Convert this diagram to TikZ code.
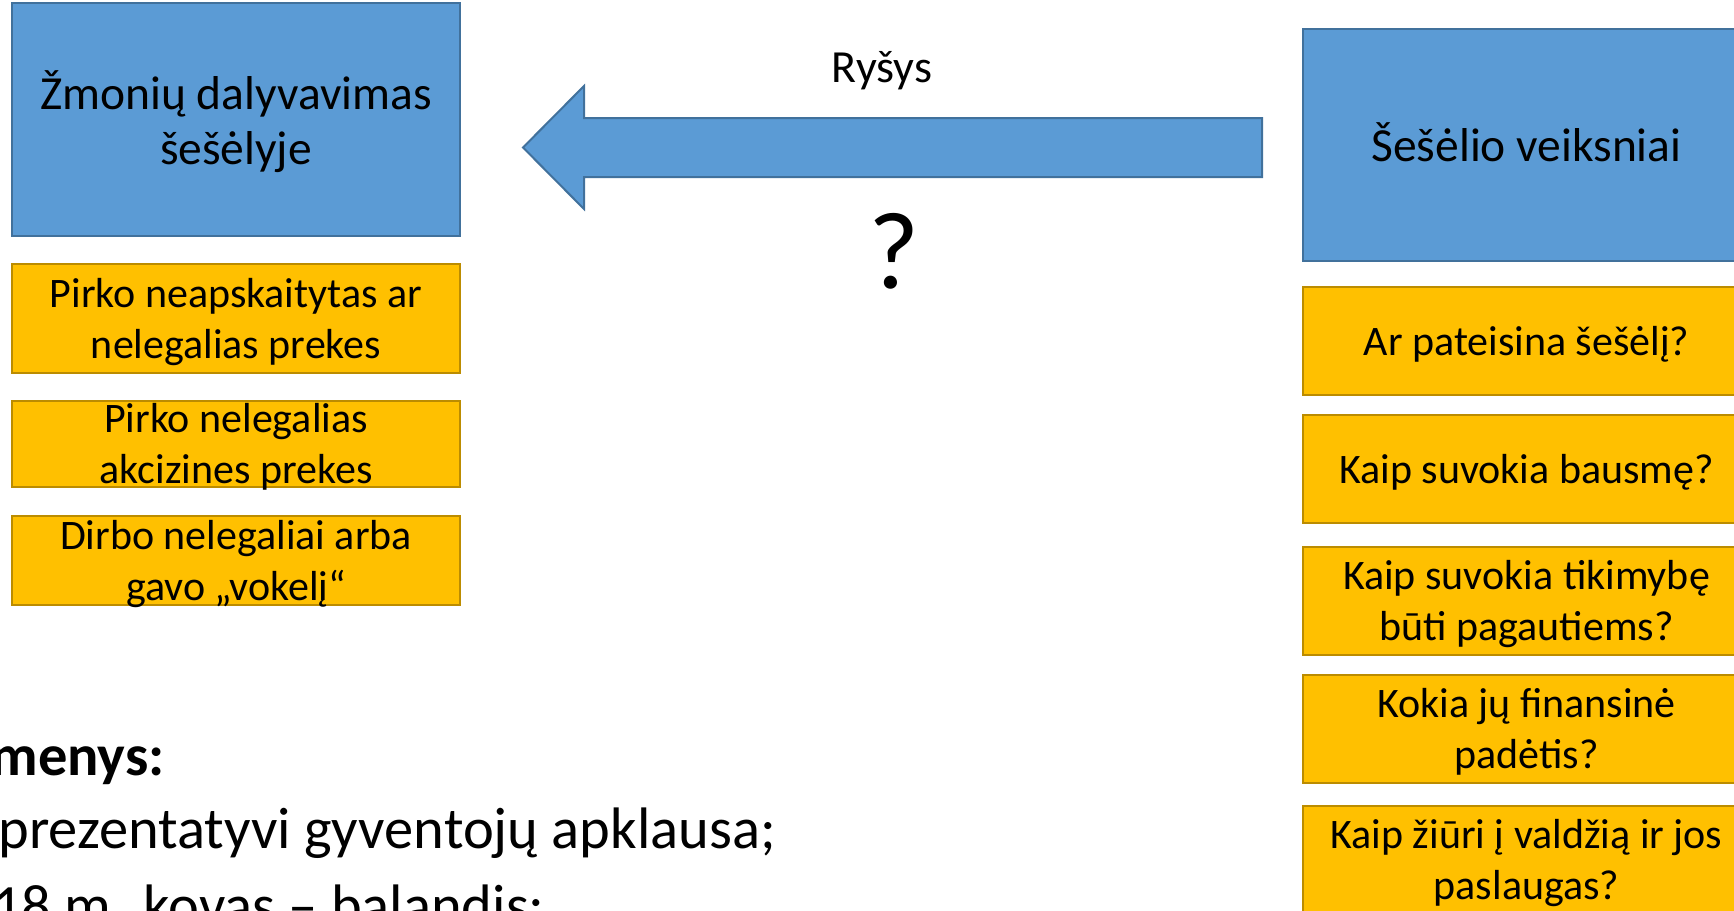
\documentclass[tikz,border=0pt]{standalone}
\usepackage{fontspec}
\setmainfont{Carlito}
\newfontfamily\cf{Carlito}
\definecolor{blueF}{HTML}{5B9BD5}
\definecolor{blueD}{HTML}{41719C}
\definecolor{orF}{HTML}{FFC000}
\definecolor{orD}{HTML}{BC8C00}
\newcommand\ofont{\cf\fontsize{42}{51}\selectfont}
\newcommand\bfnt{\cf\fontsize{47.5}{55}\selectfont}
\newcommand\os{\rule[-9pt]{0pt}{46pt}}
\newcommand\bs{\rule[-10pt]{0pt}{50pt}}
\tikzset{
  bluebox/.style={draw=blueD, fill=blueF, line width=2pt, inner sep=0pt, outer sep=0pt},
  orbox/.style={draw=orD, fill=orF, line width=2pt, inner sep=0pt, outer sep=0pt},
  otext/.style={inner sep=0pt, align=center, font=\ofont},
  btext/.style={inner sep=0pt, align=center, font=\bfnt},
  lw/.style={minimum width=448pt},
  rw/.style={minimum width=447pt},
  bottomtxt/.style={inner sep=0pt, anchor=base east, font=\cf\fontsize{58.5}{70}\selectfont},
}
\begin{document}
\begin{tikzpicture}[x=1pt, y=-1pt]
\useasboundingbox (0,0) rectangle (1734,910);
\clip (0,0) rectangle (1734,910);
\fill[white] (0,0) rectangle (1734,910);

% left column
\node[bluebox, lw, minimum height=233pt] (lb) at (236,119.5) {};
\node[btext] (lbt) at (236,121.5) {\bs Žmonių dalyvavimas\\\bs šešėlyje};

\node[orbox, lw, minimum height=109pt] (lo1) at (236,318.5) {};
\node[otext] (lo1t) at (lo1.center) {\os Pirko neapskaitytas ar\\\os nelegalias prekes};
\node[orbox, lw, minimum height=86pt] (lo2) at (236,444) {};
\node[otext] (lo2t) at (lo2.center) {\os Pirko nelegalias\\\os akcizines prekes};
\node[orbox, lw, minimum height=89pt] (lo3) at (236,560.5) {};
\node[otext] (lo3t) at (lo3.center) {\os Dirbo nelegaliai arba\\\os gavo „vokelį“};

% right column
\node[bluebox, rw, minimum height=232pt] (rb) at (1526.5,145) {};
\node[btext] (rbt) at (1526.5,146) {\bs Šešėlio veiksniai};

\node[orbox, rw, minimum height=108pt] (ro1) at (1526.5,341) {};
\node[otext] (ro1t) at (ro1.center) {\os Ar pateisina šešėlį?};
\node[orbox, rw, minimum height=108pt] (ro2) at (1526.5,469) {};
\node[otext] (ro2t) at (ro2.center) {\os Kaip suvokia bausmę?};
\node[orbox, rw, minimum height=108pt] (ro3) at (1526.5,601) {};
\node[otext] (ro3t) at (ro3.center) {\os Kaip suvokia tikimybę\\\os būti pagautiems?};
\node[orbox, rw, minimum height=108pt] (ro4) at (1526.5,729) {};
\node[otext] (ro4t) at (ro4.center) {\os Kokia jų finansinė\\\os padėtis?};
\node[orbox, rw, minimum height=108pt] (ro5) at (1526.5,860) {};
\node[otext] (ro5t) at (ro5.center) {\os Kaip žiūri į valdžią ir jos\\\os paslaugas?};

% block arrow
\coordinate (atip) at (523,147.5);
\coordinate (aend) at (1262,147.5);
\draw[draw=blueD, fill=blueF, line width=2pt, line join=miter]
  (atip) -- (584,86) -- (584,118) -- (aend |- 0,118) -- (aend |- 0,177)
  -- (584,177) -- (584,209) -- cycle;

\node[inner sep=0pt, anchor=base, font=\cf\fontsize{46}{55}\selectfont] (rys) at (882,82) {Ryšys};
\node[inner sep=0pt, anchor=base, font=\cf\fontsize{110}{120}\selectfont] (q) at (894,288) {?};

% bottom text
\node[bottomtxt, font=\cf\bfseries\fontsize{58.5}{70}\selectfont] (d1) at (165,775) {menys:};
\node[bottomtxt] (d2) at (776,848) {prezentatyvi gyventojų apklausa;};
\node[bottomtxt] (d3) at (545,925) {18 m. kovas – balandis;};
\end{tikzpicture}
\end{document}
